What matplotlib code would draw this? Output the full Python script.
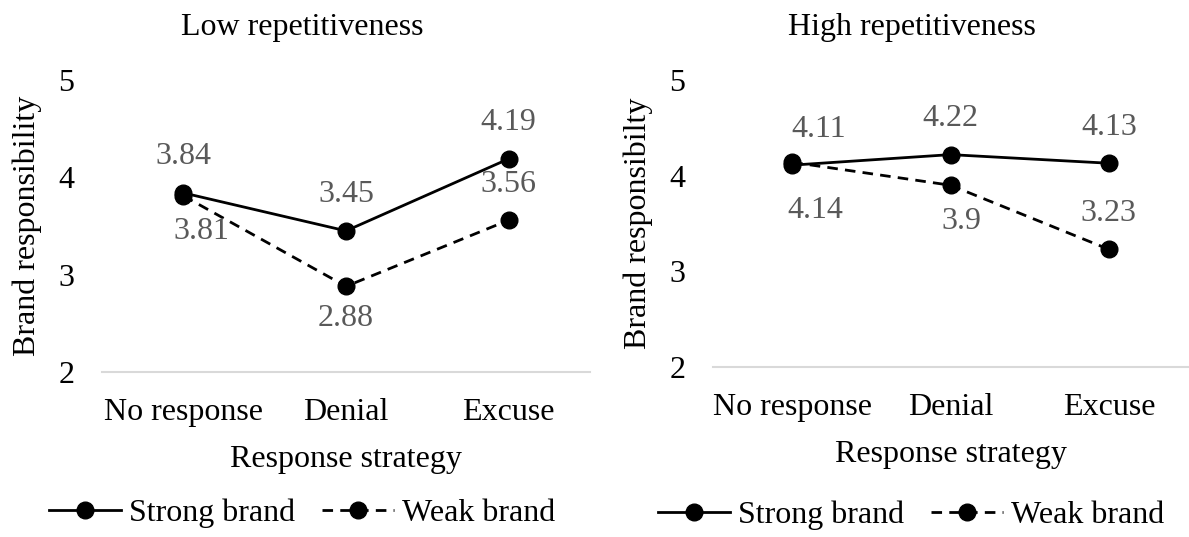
import matplotlib
matplotlib.use('Agg')
import matplotlib.pyplot as plt

plt.rcParams['font.family'] = ['Liberation Serif', 'DejaVu Serif']

categories = ['No response', 'Denial', 'Excuse']
low_strong = [3.84, 3.45, 4.19]
low_weak = [3.81, 2.88, 3.56]
high_strong = [4.11, 4.22, 4.13]
high_weak = [4.14, 3.90, 3.23]

# label offsets (points) for each value label: (dx, dy)
low_strong_off = [(0, 26), (0, 26), (0, 26)]
low_weak_off = [(13, -26), (0, -23), (0, 26)]
high_strong_off = [(19, 26), (0, 26), (0, 26)]
high_weak_off = [(17, -35), (8, -26), (0, 26)]

FS = 23
W, H = 1189, 537
fig = plt.figure(figsize=(W / 100, H / 100), dpi=100)


def px_axes(x0, x1, y0, y1):
    return fig.add_axes([x0 / W, 1 - y1 / H, (x1 - x0) / W, (y1 - y0) / H])


def draw_panel(ax, strong, weak, s_off, w_off, ylabel):
    x = range(len(categories))
    ax.plot(x, strong, color='black', lw=2, marker='o', ms=12, label='Strong brand')
    ax.plot(x, weak, color='black', lw=2, ls=(0, (3.8, 2.6)), marker='o', ms=12,
            label='Weak brand')
    for i, v in enumerate(strong):
        ax.annotate(f'{v:g}', (i, v), xytext=s_off[i], textcoords='offset points',
                    ha='center', va='center', fontsize=FS, color='#595959')
    for i, v in enumerate(weak):
        ax.annotate(f'{v:g}', (i, v), xytext=w_off[i], textcoords='offset points',
                    ha='center', va='center', fontsize=FS, color='#595959')
    ax.set_xlim(-0.5, 2.5)
    ax.set_ylim(2, 5)
    ax.set_yticks([2, 3, 4, 5])
    ax.set_xticks(list(x))
    ax.set_xticklabels(categories)
    ax.tick_params(length=0, labelsize=FS)
    ax.tick_params(axis='x', pad=19)
    ax.tick_params(axis='y', pad=20)
    for s in ['top', 'right', 'left']:
        ax.spines[s].set_visible(False)
    ax.spines['bottom'].set_color('#d9d9d9')
    ax.spines['bottom'].set_linewidth(1.5)
    ax.set_xlabel('Response strategy', fontsize=FS, labelpad=13)
    ax.set_ylabel(ylabel, fontsize=FS, labelpad=12)


ax1 = px_axes(102, 590, 80, 372)
draw_panel(ax1, low_strong, low_weak, low_strong_off, low_weak_off, 'Brand responsibility')
ax2 = px_axes(713, 1188, 80, 367)
draw_panel(ax2, high_strong, high_weak, high_strong_off, high_weak_off, 'Brand responsibilty')

fig.text(302 / W, 1 - 27 / H, 'Low repetitiveness', ha='center', va='center', fontsize=FS)
fig.text(912 / W, 1 - 27 / H, 'High repetitiveness', ha='center', va='center', fontsize=FS)

for ax, cx, cy in [(ax1, 302 / W, 1 - 513 / H), (ax2, 911 / W, 1 - 515 / H)]:
    ax.legend(loc='center', bbox_to_anchor=(cx, cy), bbox_transform=fig.transFigure,
              ncol=2, frameon=False, fontsize=FS, handlelength=2.25, handletextpad=0.25,
              columnspacing=0.85, borderpad=0)

fig.savefig('out.png', dpi=100)
